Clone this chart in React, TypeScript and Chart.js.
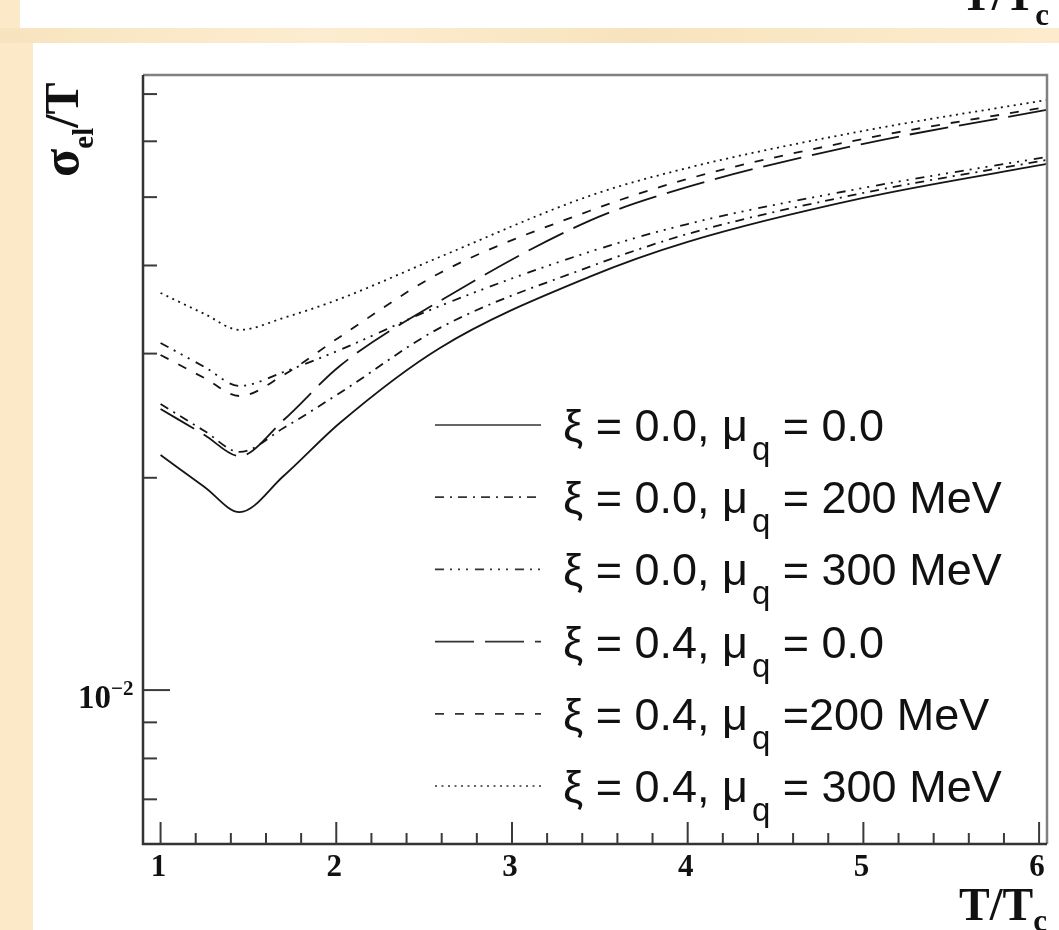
import React, { useEffect, useRef } from "react";
import { Chart, registerables } from "chart.js";

Chart.register(...registerables);

// T / T_c sample points
const temperatureRatio = [1.0, 1.25, 1.45, 1.7, 2.02, 2.59, 3.44, 4.0, 5.0, 6.045];

// sigma_el / T for each parameter set
const sigmaXi00Mu0 = [0.02154, 0.01941, 0.01788, 0.02012, 0.02392, 0.03056, 0.03853, 0.0432, 0.04987, 0.05573];
const sigmaXi00Mu200 = [0.02545, 0.0233, 0.02176, 0.02353, 0.02638, 0.03263, 0.03981, 0.04434, 0.05069, 0.05646];
const sigmaXi00Mu300 = [0.03106, 0.02872, 0.02699, 0.02825, 0.03036, 0.03505, 0.04181, 0.0458, 0.05153, 0.05702];
const sigmaXi04Mu0 = [0.02504, 0.023, 0.02147, 0.02415, 0.02881, 0.03563, 0.04627, 0.0517, 0.0595, 0.06648];
const sigmaXi04Mu200 = [0.02987, 0.0277, 0.02612, 0.02798, 0.03168, 0.03904, 0.04779, 0.05307, 0.06048, 0.06713];
const sigmaXi04Mu300 = [0.03657, 0.03415, 0.03242, 0.03371, 0.03586, 0.04114, 0.05019, 0.05501, 0.06208, 0.06868];

const legendMain = ["ξ = 0.0, μ", "ξ = 0.0, μ", "ξ = 0.0, μ", "ξ = 0.4, μ", "ξ = 0.4, μ", "ξ = 0.4, μ"];
const legendTail = [" = 0.0", " = 200 MeV", " = 300 MeV", " = 0.0", " =200 MeV", " = 300 MeV"];

const xTickLabels = ["1", "2", "3", "4", "5", "6"];
const xMajorTicks = [1, 2, 3, 4, 5, 6];
const xMinorTicks = [1.2, 1.4, 1.6, 1.8, 2.2, 2.4, 2.6, 2.8, 3.2, 3.4, 3.6, 3.8, 4.2, 4.4, 4.6, 4.8, 5.2, 5.4, 5.6, 5.8];
const yMajorTicks = [0.01];
const yMinorTicks = [0.007, 0.008, 0.009, 0.02, 0.03, 0.04, 0.05, 0.06, 0.07];

const X_MIN = 0.9;
const X_MAX = 6.045;
const Y_MIN = 0.00605;
const Y_MAX = 0.0745;

const series = [
  { values: sigmaXi00Mu0, dash: [] as number[] },
  { values: sigmaXi00Mu200, dash: [9, 6, 2, 6] },
  { values: sigmaXi00Mu300, dash: [9, 6, 2, 6, 2, 6, 2, 7] },
  { values: sigmaXi04Mu0, dash: [39, 11] },
  { values: sigmaXi04Mu200, dash: [9, 11] },
  { values: sigmaXi04Mu300, dash: [2, 4.5] },
];

const PARCHMENT = "#fbe9c8";
const SERIF = '"Liberation Serif", "DejaVu Serif", serif';
const SANS = '"Liberation Sans", Arial, sans-serif';

const decorPlugin = {
  id: "decor",
  beforeDraw(chart: any) {
    const ctx: CanvasRenderingContext2D = chart.ctx;
    const W = chart.width;
    const H = chart.height;
    ctx.save();
    ctx.fillStyle = PARCHMENT;
    ctx.fillRect(0, 0, W, H);
    const g = ctx.createLinearGradient(0, 28, W, 43);
    g.addColorStop(0, "rgba(240,215,170,0.35)");
    g.addColorStop(0.3, "rgba(255,245,225,0.3)");
    g.addColorStop(0.6, "rgba(240,215,170,0.35)");
    g.addColorStop(1, "rgba(255,240,215,0.3)");
    ctx.fillStyle = g;
    ctx.fillRect(0, 28, W, 15);
    ctx.fillStyle = "#ffffff";
    ctx.fillRect(20, 0, W - 20, 28);
    ctx.fillRect(33, 43, W - 33, H - 43);
    ctx.restore();
  },
  afterDatasetsDraw(chart: any) {
    const ctx: CanvasRenderingContext2D = chart.ctx;
    const xs = chart.scales.x;
    const ys = chart.scales.y;
    const { left, right, top, bottom } = chart.chartArea;
    ctx.save();

    // frame
    ctx.lineCap = "butt";
    ctx.strokeStyle = "#808080";
    ctx.lineWidth = 2.5;
    ctx.beginPath();
    ctx.moveTo(left, top);
    ctx.lineTo(right, top);
    ctx.lineTo(right, bottom);
    ctx.stroke();
    ctx.strokeStyle = "#333";
    ctx.lineWidth = 2.5;
    ctx.beginPath();
    ctx.moveTo(left, top);
    ctx.lineTo(left, bottom);
    ctx.lineTo(right, bottom);
    ctx.stroke();

    // y ticks
    ctx.lineWidth = 2;
    ctx.strokeStyle = "#3a3a3a";
    for (const v of yMajorTicks) {
      const y = ys.getPixelForValue(v);
      ctx.beginPath();
      ctx.moveTo(left, y);
      ctx.lineTo(left + 27, y);
      ctx.stroke();
    }
    for (const v of yMinorTicks) {
      const y = ys.getPixelForValue(v);
      ctx.beginPath();
      ctx.moveTo(left, y);
      ctx.lineTo(left + 14, y);
      ctx.stroke();
    }
    // x ticks
    for (const v of xMajorTicks) {
      const x = xs.getPixelForValue(v);
      ctx.beginPath();
      ctx.moveTo(x, bottom);
      ctx.lineTo(x, bottom - 22);
      ctx.stroke();
    }
    for (const v of xMinorTicks) {
      const x = xs.getPixelForValue(v);
      ctx.beginPath();
      ctx.moveTo(x, bottom);
      ctx.lineTo(x, bottom - 11);
      ctx.stroke();
    }

    // x tick labels
    ctx.fillStyle = "#111";
    ctx.font = `bold 31px ${SERIF}`;
    ctx.textAlign = "center";
    ctx.textBaseline = "alphabetic";
    xMajorTicks.forEach((v, i) => {
      const x = xs.getPixelForValue(v);
      ctx.fillText(xTickLabels[i], x - 2, 876);
    });

    // y tick label 10^-2
    const y01 = ys.getPixelForValue(0.01);
    ctx.textAlign = "left";
    ctx.font = `bold 33px ${SERIF}`;
    ctx.fillText("10", 78, y01 + 18);
    ctx.font = `bold 21px ${SERIF}`;
    ctx.fillText("−2", 111, y01 + 5);

    // x axis title
    ctx.font = `bold 46px ${SERIF}`;
    ctx.fillText("T/T", 959, 920);
    const wT = ctx.measureText("T/T").width;
    ctx.font = `bold 31px ${SERIF}`;
    ctx.fillText("c", 959 + wT, 931);

    // clipped title of the panel above
    ctx.font = `bold 46px ${SERIF}`;
    ctx.fillText("T/T", 961, 10);
    ctx.font = `bold 31px ${SERIF}`;
    ctx.fillText("c", 961 + wT, 25);

    // y axis title (rotated)
    ctx.save();
    ctx.translate(78, 177);
    ctx.rotate(-Math.PI / 2);
    ctx.font = `bold 52px ${SERIF}`;
    ctx.fillText("σ", 0, 0);
    let w = ctx.measureText("σ").width;
    ctx.font = `bold 29px ${SERIF}`;
    ctx.fillText("el", w, 15);
    w += ctx.measureText("el").width;
    ctx.font = `bold 48px ${SERIF}`;
    ctx.fillText("/T", w, 0);
    ctx.restore();

    // legend
    const rowY0 = 425;
    const rowStep = 72.2;
    chart.data.datasets.forEach((ds: any, i: number) => {
      const y = rowY0 + i * rowStep;
      ctx.save();
      ctx.strokeStyle = "#333";
      ctx.lineWidth = 1.7;
      ctx.setLineDash(ds.borderDash || []);
      ctx.beginPath();
      ctx.moveTo(435, y);
      ctx.lineTo(541, y);
      ctx.stroke();
      ctx.restore();

      ctx.fillStyle = "#111";
      ctx.textAlign = "left";
      ctx.font = `45px ${SANS}`;
      const tx = 563;
      const by = y + 16;
      ctx.fillText(legendMain[i], tx, by);
      let lw = ctx.measureText(legendMain[i]).width;
      ctx.font = `33px ${SANS}`;
      ctx.fillText("q", tx + lw + 4, by + 19);
      lw += ctx.measureText("q").width + 4;
      ctx.font = `45px ${SANS}`;
      ctx.fillText(legendTail[i], tx + lw, by);
    });

    ctx.restore();
  },
};

export default function App() {
  const ref = useRef<HTMLCanvasElement>(null);

  useEffect(() => {
    if (!ref.current) return;
    const datasets = series.map((s, i) => ({
      label: legendMain[i] + "q" + legendTail[i],
      data: temperatureRatio.map((t, k) => ({ x: t, y: s.values[k] })),
      borderColor: "#151515",
      borderWidth: 1.8,
      borderDash: s.dash,
      pointRadius: 0,
      fill: false,
      cubicInterpolationMode: "monotone" as const,
    }));
    const chart = new Chart(ref.current, {
      type: "line",
      data: { datasets },
      options: {
        animation: false,
        responsive: false,
        devicePixelRatio: 1,
        layout: { padding: { left: 143, right: 12, top: 75, bottom: 86 } },
        plugins: { legend: { display: false }, tooltip: { enabled: false } },
        events: [],
        scales: {
          x: { type: "linear", min: X_MIN, max: X_MAX, display: false },
          y: { type: "logarithmic", min: Y_MIN, max: Y_MAX, display: false },
        },
      },
      plugins: [decorPlugin],
    });
    return () => chart.destroy();
  }, []);

  return (
    <div style={{ position: "fixed", left: 0, top: 0, width: 1059, height: 930 }}>
      <canvas ref={ref} width={1059} height={930} style={{ display: "block" }} />
    </div>
  );
}
